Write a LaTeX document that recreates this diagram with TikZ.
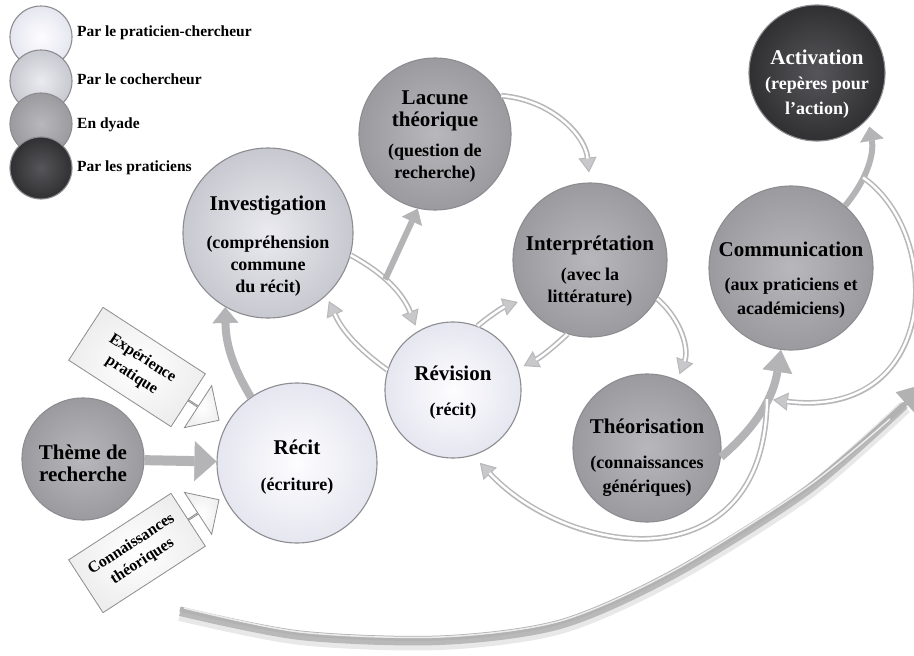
\documentclass[tikz,border=0pt]{standalone}
\usepackage{fontspec}
\setmainfont{Liberation Serif}
\usepackage{tikz}
\usetikzlibrary{arrows.meta, shapes.arrows}

\definecolor{pcin}{RGB}{253,253,255}
\definecolor{pcout}{RGB}{230,230,240}
\definecolor{coin}{RGB}{234,234,240}
\definecolor{coout}{RGB}{200,200,208}
\definecolor{dyin}{RGB}{184,184,188}
\definecolor{dyout}{RGB}{154,154,159}
\definecolor{prin}{RGB}{86,86,90}
\definecolor{prout}{RGB}{48,48,50}
\definecolor{rim}{RGB}{140,140,145}
\definecolor{fatgray}{RGB}{180,180,182}
\definecolor{thingray}{RGB}{184,184,186}
\definecolor{headgray}{RGB}{200,200,202}

\newcommand{\tsize}{\fontsize{21}{24}\selectfont}
\newcommand{\ssize}{\fontsize{18}{22}\selectfont}

\begin{document}
\begin{tikzpicture}[x=1pt, y=1pt,
    main/.style = {circle, draw=rim, line width=1.1pt, inner sep=0pt},
    pc/.style = {main, inner color=pcin, outer color=pcout},
    co/.style = {main, inner color=coin, outer color=coout},
    dy/.style = {main, inner color=dyin, outer color=dyout},
    pr/.style = {main, inner color=prin, outer color=prout},
    txt/.style = {align=center, inner sep=0pt, font=\bfseries\ssize},
    key/.style = {anchor=west, inner sep=0pt, font=\bfseries\fontsize{15.5}{18}\selectfont},
    box/.style = {draw=rim, line width=0.8pt, inner color=white, outer color=gray!14, minimum width=122pt, minimum height=63pt, align=center, font=\bfseries\fontsize{16}{19}\selectfont},
    boxarrow/.style = {single arrow, draw=rim, line width=0.8pt, inner color=white, outer color=gray!12, minimum width=50pt, minimum height=36pt, single arrow head extend=14pt, inner sep=0pt},
    fatarrow/.style n args = {3}{draw=fatgray, line width=#1, -{Triangle[length=#2, width=#3, line width=0.5pt]}},
    hollowarrow/.style = {draw=white, line width=2.4pt, shorten >=#1+14pt,
        preaction={draw=thingray, line width=5.6pt, shorten >=#1, -{Triangle[length=15pt, width=18pt, fill=headgray, line width=1pt]}}},
    hollowarrow/.default = 6pt]
    \fill[white] (0,0) rectangle (914,-656);
    \useasboundingbox (0,0) rectangle (914,-656);

    % big sweep at the bottom
    \draw[line width=14pt, gray!80, opacity=0.22, yshift=-5pt] plot[smooth] coordinates {(180,-609) (300,-633) (440,-638) (560,-622) (673,-572) (807,-488) (905,-402)};
    \draw[line width=8pt, gray!85, opacity=0.55, yshift=-3pt] plot[smooth] coordinates {(180,-609) (300,-633) (440,-638) (560,-622) (673,-572) (807,-488) (905,-402)};
    \draw[line width=5pt, gray!60, -{Triangle[length=30pt, width=30pt, line width=0.5pt]}] plot[smooth] coordinates {(180,-609) (300,-633) (440,-638) (560,-622) (673,-572) (807,-488) (928,-383)};
    \draw[line width=1.5pt, gray!15, yshift=1pt] plot[smooth] coordinates {(184,-609) (300,-633) (440,-638) (560,-622) (673,-572) (807,-488) (890,-420)};

    % legend
    \node[pc, minimum size=62pt] (k1) at (41,-37) {};
    \node[co, minimum size=62pt] (k2) at (41,-81) {};
    \node[dy, minimum size=62pt] (k3) at (41,-124) {};
    \node[pr, minimum size=62pt] (k4) at (41,-168) {};
    \node[key] (t1) at (77,-33) {Par le praticien-chercheur};
    \node[key] (t2) at (77,-79) {Par le cochercheur};
    \node[key] (t3) at (77,-125) {En dyade};
    \node[key] (t4) at (77,-168) {Par les praticiens};

    % stages
    \node[dy, minimum size=122pt] (theme) at (83,-459) {};
    \node[pc, minimum size=160pt] (recit) at (297,-463) {};
    \node[co, minimum size=170pt] (invest) at (268,-233) {};
    \node[dy, minimum size=152pt] (lacune) at (435,-134) {};
    \node[pc, minimum size=136pt] (revision) at (453,-390) {};
    \node[dy, minimum size=154pt] (interp) at (590,-260) {};
    \node[dy, minimum size=148pt] (theor) at (647,-448) {};
    \node[dy, minimum size=164pt] (comm) at (791,-268) {};
    \node[pr, minimum size=136pt] (activ) at (817,-73) {};

    \node[txt] (themetxt) at ([yshift=-4pt]theme) {\tsize Thème de\\\tsize recherche};
    \node[txt] (recittxt) at ([yshift=-4pt]recit) {\tsize Récit\\[14pt]\ssize (écriture)};
    \node[txt] (investtxt) at ([yshift=-13pt]invest) {\tsize Investigation\\[16pt]\ssize (compréhension\\commune\\du récit)};
    \node[txt] (lacunetxt) at ([yshift=-3pt]lacune) {\tsize Lacune\\\tsize théorique\\[8pt]\ssize (question de\\recherche)};
    \node[txt] (revisiontxt) at ([yshift=-3pt]revision) {\tsize Révision\\[13pt]\ssize (récit)};
    \node[txt] (interptxt) at ([yshift=-11pt]interp) {\tsize Interprétation\\[8pt]\ssize (avec la\\littérature)};
    \node[txt] (theortxt) at ([yshift=-10pt]theor) {\tsize Théorisation\\[13pt]\ssize (connaissances\\[2pt]génériques)};
    \node[txt] (commtxt) at ([yshift=-12pt]comm) {\tsize Communication\\[12pt]\ssize (aux praticiens et\\[2pt]académiciens)};
    \node[txt, text=white] (activtxt) at ([yshift=-11pt]activ) {\tsize Activation\\[3pt]\ssize (repères pour\\[3pt]l’action)};

    % inputs
    \node[box, rotate=-33] (exp) at (137,-367) {Expérience\\[1pt]pratique};
    \node[boxarrow, rotate=-33, anchor=tail] (exparr) at (exp.east) {};
    \node[box, rotate=33] (conn) at (137,-553) {Connaissances\\[1pt]théoriques};
    \node[boxarrow, rotate=33, anchor=tail] (connarr) at (conn.east) {};

    \draw[fatarrow={10pt}{22pt}{40pt}] (theme) -- (recit);
    \draw[fatarrow={8pt}{16pt}{26pt}] (recit.125) to[bend left=15] (invest.240);
    \draw[hollowarrow] (invest.-15) to[bend left=20] coordinate[pos=0.4] (fork) (revision.121);
    \draw[fatarrow={6pt}{14pt}{22pt}] (fork) -- (lacune.257);
    \draw[hollowarrow] (revision.163) to[bend left=15] (invest.-47);
    \draw[hollowarrow] (revision.69) to[bend left=10] (interp.211);
    \draw[hollowarrow] (interp.253) to[bend left=8] (revision.18);
    \draw[hollowarrow=10pt] (lacune.30) to[bend left=40] (interp.90);
    \draw[hollowarrow] (interp.-30) to[bend left=35] (theor.66);
    \draw[fatarrow={8pt}{22pt}{30pt}] (theor.-7) to[bend right=20] coordinate[pos=0.6] (junc) (comm.263);
    \draw[fatarrow={6pt}{14pt}{24pt}, shorten >=8pt] (comm.49) to[bend right=25] coordinate[pos=0.35] (loop) (activ.-42);
    \draw[hollowarrow] (loop) .. controls (945,-235) and (940,-420) .. (junc);
    \draw[hollowarrow=10pt] (junc) .. controls (765,-586) and (569,-558) .. (revision.-73);
\end{tikzpicture}
\end{document}
